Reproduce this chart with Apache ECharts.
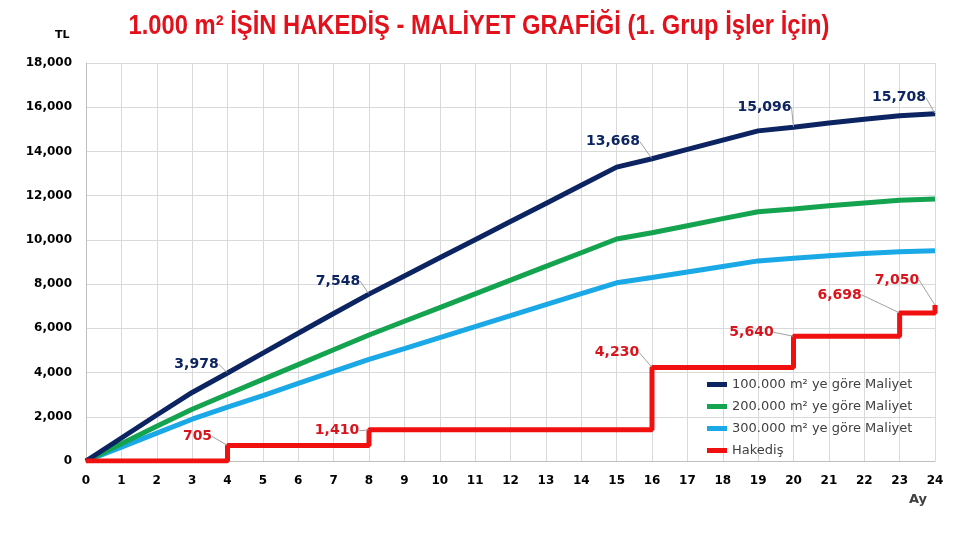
<!DOCTYPE html>
<html>
<head>
<meta charset="utf-8">
<script src="https://cdn.jsdelivr.net/npm/echarts@6/dist/echarts.min.js"></script>
<style>html,body{margin:0;padding:0;background:#fff}#c{width:960px;height:540px}</style>
</head>
<body>
<div id="c"></div>
<script>
// ---- data ----
const months = [0,1,2,3,4,5,6,7,8,9,10,11,12,13,14,15,16,17,18,19,20,21,22,23,24];
const seriesNames = ['100.000 m² ye göre Maliyet','200.000 m² ye göre Maliyet','300.000 m² ye göre Maliyet','Hakediş'];
const cost100 = [0,1040,2080,3100,3978,4880,5780,6670,7548,8370,9190,10010,10830,11650,12470,13290,13668,14090,14510,14930,15096,15290,15460,15610,15708];
const cost200 = [0,785,1570,2340,3020,3690,4360,5030,5700,6320,6940,7560,8180,8800,9420,10040,10320,10640,10960,11270,11400,11540,11670,11790,11850];
const cost300 = [0,630,1260,1890,2440,2960,3510,4050,4600,5080,5580,6080,6570,7070,7570,8060,8300,8550,8800,9050,9170,9280,9380,9460,9510];
const hakedis = [0,0,0,0,705,705,705,705,1410,1410,1410,1410,1410,1410,1410,1410,4230,4230,4230,4230,5640,5640,5640,6698,7050];
const labelled100 = [4,8,16,20,24];
const labelledHak = [4,8,16,20,23,24];
const titleText = '1.000 m² İŞİN HAKEDİŞ - MALİYET GRAFİĞİ (1. Grup İşler İçin)';

// ---- styling (label offsets from the point, px) ----
const off100 = {4:[-31,-9],8:[-31,-13],16:[-39,-17],20:[-29,-20],24:[-36,-16]};
const offHak = {4:[-30,-9],8:[-32,1],16:[-35,-15],20:[-42,-4],23:[-60,-18],24:[-38,-25]};
const colors = ['#0c2461','#14a34f','#1aa9e6','#f01010'];
const fmt = v => String(v).replace(/\B(?=(\d{3})+(?!\d))/g, ',');

function buildData(vals, labelled){
  return months.map((m,i)=>{
    const d = {value:[m, vals[i]]};
    if (labelled && labelled.indexOf(m) >= 0){
      d.label = {show:true};
    }
    return d;
  });
}
function layoutFn(offs){
  return function(p){
    const o = offs[months[p.dataIndex]];
    if(!o) return {};
    return {x: p.rect.x + p.rect.width/2 + o[0], y: p.rect.y + p.rect.height/2 + o[1], align:'center', verticalAlign:'middle'};
  };
}
const lblBase = {show:false, fontFamily:'DejaVu Sans', fontWeight:'bold', fontSize:14, formatter: p => fmt(p.value[1])};

const chart = echarts.init(document.getElementById('c'));
chart.setOption({
  animation:false,
  color: colors,
  graphic:[
    {type:'text', x:479, y:27, scaleX:0.88, z:10,
      style:{text:titleText, x:0, y:0, align:'center', verticalAlign:'middle',
        fontFamily:'Liberation Sans', fontWeight:'bold', fontSize:27, fill:'#e3111b'}},
    {type:'text', left:55, top:30, style:{text:'TL', fontFamily:'DejaVu Sans', fontWeight:'bold', fontSize:11, fill:'#000'}},
    {type:'text', left:909, top:493, style:{text:'Ay', fontFamily:'DejaVu Sans', fontWeight:'bold', fontSize:13, fill:'#404040'}}
  ],
  legend:{orient:'vertical', left:702, top:373, itemWidth:20, itemHeight:5, itemGap:9, icon:'rect',
    textStyle:{fontFamily:'DejaVu Sans', fontSize:13, color:'#404040'}, data:seriesNames},
  grid:{left:86, right:25, top:63, bottom:79},
  xAxis:{type:'value', min:0, max:24, interval:1,
    axisLine:{lineStyle:{color:'#bfbfbf'}}, axisTick:{show:false},
    axisLabel:{color:'#000', fontFamily:'DejaVu Sans', fontWeight:'bold', fontSize:12, margin:14},
    splitLine:{show:true, lineStyle:{color:'#d9d9d9'}}},
  yAxis:{type:'value', min:0, max:18000, interval:2000,
    axisLine:{show:true, lineStyle:{color:'#bfbfbf'}}, axisTick:{show:false},
    axisLabel:{color:'#000', fontFamily:'DejaVu Sans', fontWeight:'bold', fontSize:12, margin:14, formatter: v => fmt(v)},
    splitLine:{show:true, lineStyle:{color:'#d9d9d9'}}},
  series:[
    {name:seriesNames[0], type:'line', data:buildData(cost100, labelled100), symbol:'circle', symbolSize:1, showSymbol:true,
      lineStyle:{width:5, color:colors[0]}, itemStyle:{color:colors[0]}, z:5,
      label:Object.assign({}, lblBase, {color:'#0c2461'}), labelLayout:layoutFn(off100),
      labelLine:{show:true, lineStyle:{color:'#a0a0a0', width:1}}},
    {name:seriesNames[1], type:'line', data:buildData(cost200), symbol:'none',
      lineStyle:{width:5, color:colors[1]}, itemStyle:{color:colors[1]}, z:4},
    {name:seriesNames[2], type:'line', data:buildData(cost300), symbol:'none',
      lineStyle:{width:5, color:colors[2]}, itemStyle:{color:colors[2]}, z:3},
    {name:seriesNames[3], type:'line', step:'end', data:buildData(hakedis, labelledHak), symbol:'circle', symbolSize:1, showSymbol:true,
      lineStyle:{width:5, color:colors[3]}, itemStyle:{color:colors[3]}, z:6,
      label:Object.assign({}, lblBase, {color:'#d8141c'}), labelLayout:layoutFn(offHak),
      labelLine:{show:true, lineStyle:{color:'#a0a0a0', width:1}}}
  ]
});
</script>
</body>
</html>
